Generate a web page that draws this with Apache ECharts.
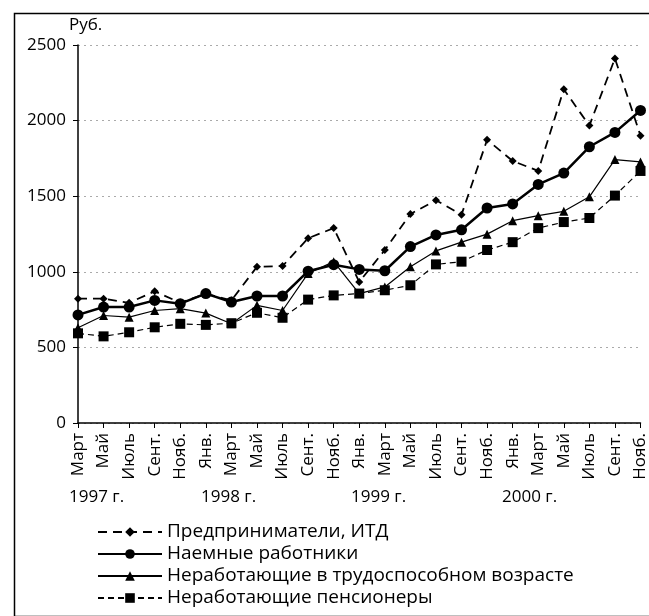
<!DOCTYPE html>
<html>
<head>
<meta charset="utf-8">
<script src="https://cdn.jsdelivr.net/npm/echarts@6/dist/echarts.min.js"></script>
<style>
  html, body { margin: 0; padding: 0; background: #fff; }
  #chart { width: 649px; height: 616px; }
</style>
</head>
<body>
<div id="chart"></div>
<script>
// months (two-month steps), March 1997 - November 2000
var months = ['Март', 'Май', 'Июль', 'Сент.', 'Нояб.', 'Янв.', 'Март', 'Май', 'Июль', 'Сент.', 'Нояб.',
    'Янв.', 'Март', 'Май', 'Июль', 'Сент.', 'Нояб.', 'Янв.', 'Март', 'Май', 'Июль', 'Сент.', 'Нояб.'];
var years = ['1997 г.', '1998 г.', '1999 г.', '2000 г.'];

var predprinimateli = [822, 822, 795, 871, 795, 855, 811, 1033, 1038, 1222, 1289,
    933, 1144, 1382, 1473, 1378, 1873, 1733, 1667, 2207, 1967, 2411, 1900];
var naemnye = [715, 767, 767, 811, 789, 856, 800, 840, 840, 1004, 1047,
    1016, 1007, 1167, 1244, 1278, 1422, 1449, 1578, 1653, 1827, 1922, 2067];
var nerabTrud = [630, 711, 700, 744, 756, 727, 656, 778, 744, 989, 1067,
    856, 900, 1033, 1138, 1196, 1249, 1338, 1371, 1400, 1496, 1742, 1727];
var pensionery = [593, 573, 600, 633, 656, 649, 660, 729, 696, 816, 844,
    856, 878, 911, 1049, 1067, 1144, 1196, 1289, 1329, 1356, 1504, 1667];

var yTicks = [0, 500, 1000, 1500, 2000, 2500];

var fontName = 'Open Sans';
var txtFont = '17px "Open Sans"';

var chartDom = document.getElementById('chart');
var myChart = echarts.init(chartDom);

var option = {
    animation: false,
    textStyle: { fontFamily: fontName, color: '#000' },
    grid: { left: 78, right: 8, top: 45, bottom: 193, containLabel: false },
    legend: {
        orient: 'vertical',
        left: 97,
        top: 522,
        padding: 0,
        itemWidth: 64,
        itemHeight: 12,
        itemGap: 2,
        textStyle: { fontFamily: fontName, fontSize: 19, lineHeight: 20, color: '#000' },
        data: ['Предприниматели, ИТД', 'Наемные работники',
            'Неработающие в трудоспособном возрасте', 'Неработающие пенсионеры']
    },
    xAxis: {
        type: 'category',
        data: months,
        boundaryGap: false,
        axisLine: { lineStyle: { color: '#000', width: 1.5 } },
        axisTick: { show: true, inside: false, length: 5, interval: 0, lineStyle: { color: '#000' } },
        axisLabel: {
            interval: 0, rotate: 90, fontSize: 17, color: '#000', fontFamily: fontName, margin: 10
        }
    },
    yAxis: {
        type: 'value',
        min: yTicks[0],
        max: yTicks[yTicks.length - 1],
        interval: 500,
        axisLine: { show: true, lineStyle: { color: '#000', width: 1.5 } },
        axisTick: { show: true, length: 5, lineStyle: { color: '#000' } },
        axisLabel: {
            fontSize: 17, color: '#000', fontFamily: fontName, margin: 12,
            formatter: function (v) { return String(v); }
        },
        splitLine: { show: true, lineStyle: { color: '#aaa', type: [2, 4], width: 1 } }
    },
    graphic: [
        { type: 'rect', left: 12, top: 11, shape: { width: 640, height: 603 },
          style: { fill: 'none', stroke: '#000', lineWidth: 1.5 } },
        { type: 'text', left: 69, top: 17, style: { text: 'Руб.', font: txtFont, fill: '#000' } },
        { type: 'text', left: 69, top: 489, style: { text: years[0], font: txtFont, fill: '#000' } },
        { type: 'text', left: 201, top: 489, style: { text: years[1], font: txtFont, fill: '#000' } },
        { type: 'text', left: 351, top: 489, style: { text: years[2], font: txtFont, fill: '#000' } },
        { type: 'text', left: 502, top: 489, style: { text: years[3], font: txtFont, fill: '#000' } }
    ],
    series: [
        {
            name: 'Предприниматели, ИТД',
            type: 'line',
            data: predprinimateli,
            symbol: 'diamond',
            symbolSize: 8,
            itemStyle: { color: '#000' },
            lineStyle: { color: '#000', width: 1.8, type: [9, 6] }
        },
        {
            name: 'Наемные работники',
            type: 'line',
            data: naemnye,
            symbol: 'circle',
            symbolSize: 11,
            itemStyle: { color: '#000' },
            lineStyle: { color: '#000', width: 2.5 }
        },
        {
            name: 'Неработающие в трудоспособном возрасте',
            type: 'line',
            data: nerabTrud,
            symbol: 'triangle',
            symbolSize: 9,
            itemStyle: { color: '#000' },
            lineStyle: { color: '#000', width: 1.2 }
        },
        {
            name: 'Неработающие пенсионеры',
            type: 'line',
            data: pensionery,
            symbol: 'rect',
            symbolSize: 10,
            itemStyle: { color: '#000' },
            lineStyle: { color: '#000', width: 1.2, type: [6, 4] }
        }
    ]
};

option && myChart.setOption(option);
</script>
</body>
</html>
